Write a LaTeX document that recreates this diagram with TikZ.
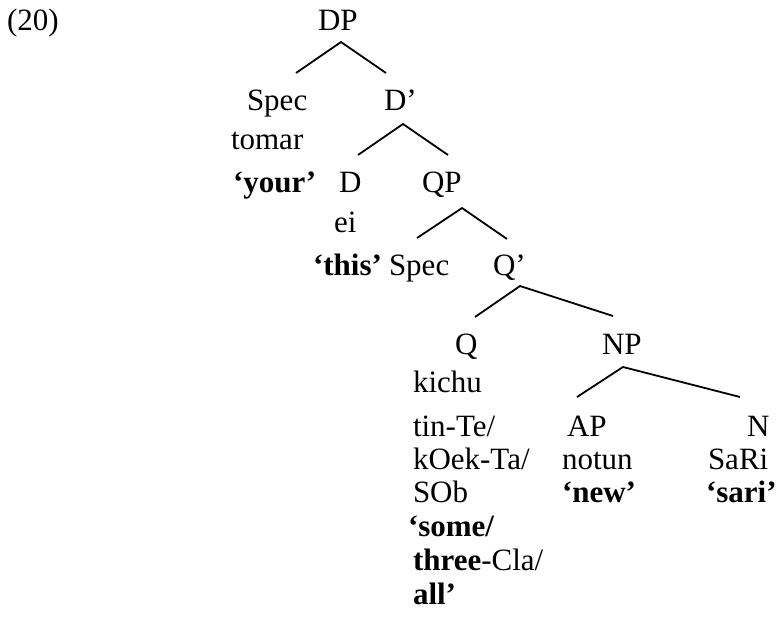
\documentclass[tikz,border=0pt]{standalone}
\usepackage{fontspec}
\setmainfont{Liberation Serif}
\begin{document}
\begin{tikzpicture}[x=1pt,y=-1pt,
  lbl/.style={inner sep=0pt, outer sep=0pt, anchor=base west, font=\fontsize{31}{37}\selectfont},
  branch/.style={line width=1.8pt}]
\useasboundingbox (0,0) rectangle (779,627);
% labels
\node[lbl] (ex) at (7,30) {(20)};
\node[lbl] (DP) at (318,30) {DP};
\node[lbl] (Spec1) at (247,110) {Spec};
\node[lbl] (Dbar) at (384,110) {D’};
\node[lbl] (tomar) at (231,149) {tomar};
\node[lbl] (your) at (233,192) {\bfseries ‘your’};
\node[lbl] (D) at (339,192) {D};
\node[lbl] (QP) at (422,192) {QP};
\node[lbl] (ei) at (334,232) {ei};
\node[lbl] (this) at (313,275) {\bfseries ‘this’};
\node[lbl] (Spec2) at (389,275) {Spec};
\node[lbl] (Qbar) at (493,275) {Q’};
\node[lbl] (Q) at (455,354) {Q};
\node[lbl] (NP) at (602,354) {NP};
\node[lbl] (kichu) at (413,392) {kichu};
\node[lbl] (tinte) at (413,436) {tin-Te/};
\node[lbl] (AP) at (567,436) {AP};
\node[lbl] (N) at (747,436) {N};
\node[lbl] (koekta) at (413,469) {kOek-Ta/};
\node[lbl] (notun) at (562,469) {notun};
\node[lbl] (sari) at (708,469) {SaRi};
\node[lbl] (sob) at (413,502) {SOb};
\node[lbl] (new) at (562,502) {\bfseries ‘new’};
\node[lbl] (sarigl) at (706,502) {\bfseries ‘sari’};
\node[lbl] (some) at (408,536) {\bfseries ‘some/};
\node[lbl] (three) at (413,570) {\textbf{three}-Cla/};
\node[lbl] (all) at (413,604) {\bfseries all’};
% branch points
\coordinate (dpT) at (341,42);  \coordinate (dpL) at (296,73);  \coordinate (dpR) at (386,73);
\coordinate (dbT) at (403,124); \coordinate (dbL) at (358,155); \coordinate (dbR) at (448,155);
\coordinate (qpT) at (462,208); \coordinate (qpL) at (417,238); \coordinate (qpR) at (507,239);
\coordinate (qbT) at (520,286); \coordinate (qbL) at (475,317); \coordinate (qbR) at (613,316);
\coordinate (npT) at (623,367); \coordinate (npL) at (577,397); \coordinate (npR) at (740,397);
\draw[branch] (dpL) -- (dpT) -- (dpR);
\draw[branch] (dbL) -- (dbT) -- (dbR);
\draw[branch] (qpL) -- (qpT) -- (qpR);
\draw[branch] (qbL) -- (qbT) -- (qbR);
\draw[branch] (npL) -- (npT) -- (npR);
\end{tikzpicture}
\end{document}
